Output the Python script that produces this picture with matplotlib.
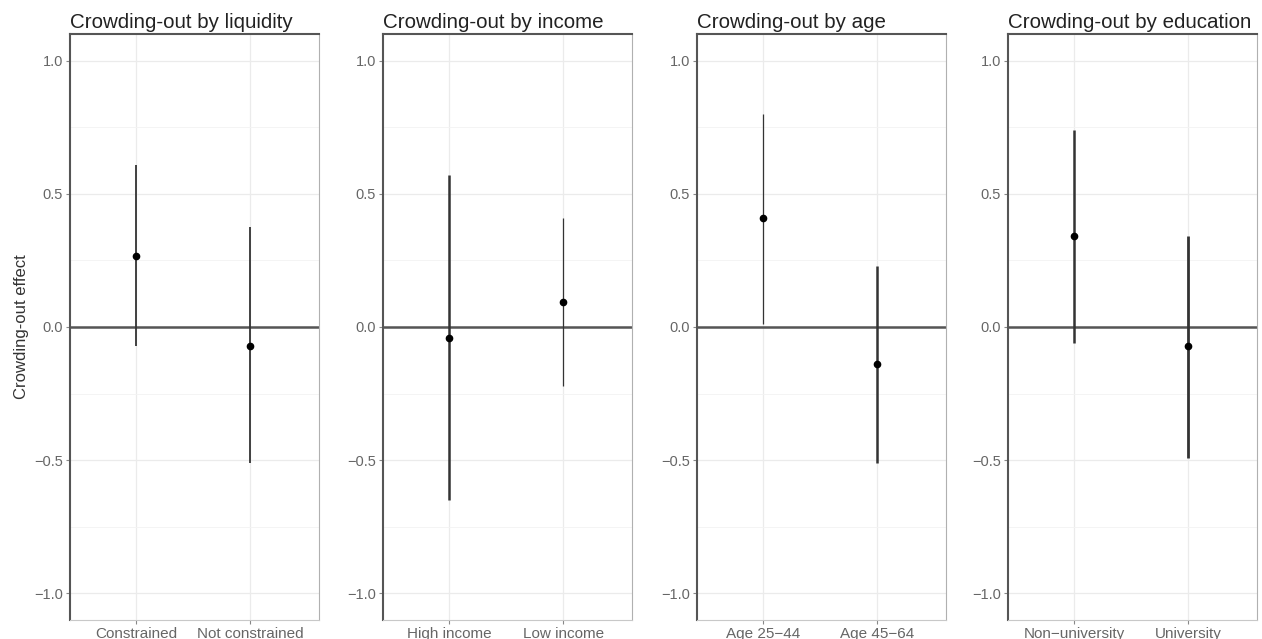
import numpy as np
import matplotlib
matplotlib.use("Agg")
import matplotlib.pyplot as plt
from matplotlib.ticker import MultipleLocator

plt.rcParams['font.family'] = ['Liberation Sans', 'DejaVu Sans']

# data
titles = ["Crowding-out by liquidity", "Crowding-out by income",
          "Crowding-out by age", "Crowding-out by education"]
groups = [["Constrained", "Not constrained"],
          ["High income", "Low income"],
          ["Age 25\u221244", "Age 45\u221264"],
          ["Non\u2212university", "University"]]
estimates = [[0.265, -0.07], [-0.04, 0.095], [0.41, -0.14], [0.34, -0.07]]
ci_low = [[-0.07, -0.51], [-0.65, -0.22], [0.01, -0.51], [-0.06, -0.49]]
ci_high = [[0.61, 0.375], [0.57, 0.41], [0.80, 0.23], [0.74, 0.34]]
line_w = [[1.3, 1.3], [1.8, 0.9], [0.9, 1.8], [1.8, 2.0]]

W, H = 1262, 639
fig = plt.figure(figsize=(W / 100, H / 100), dpi=100)
lefts = [70, 383, 697, 1008]
aw = 249
top, bottom = 34, 620

for i in range(4):
    ax = fig.add_axes([lefts[i] / W, 1 - bottom / H, aw / W, (bottom - top) / H])
    x = np.arange(len(groups[i]))
    ax.set_xlim(-0.58, 1.6)
    ax.set_ylim(-1.1, 1.1)
    ax.yaxis.set_major_locator(MultipleLocator(0.5))
    ax.yaxis.set_minor_locator(MultipleLocator(0.25))
    ax.grid(which='major', color='#ebebeb', lw=0.9)
    ax.grid(which='minor', axis='y', color='#f3f3f3', lw=0.6)
    ax.set_axisbelow(True)
    ax.axhline(0, color='#555555', lw=1.8, zorder=2)
    for j in range(len(x)):
        ax.vlines(x[j], ci_low[i][j], ci_high[i][j], color='#333333',
                  lw=line_w[i][j], zorder=3)
    ax.plot(x, estimates[i], 'o', color='black', ms=4.5, zorder=4)
    ax.set_xticks(x)
    ax.set_xticklabels(groups[i])
    ax.set_yticks([-1.0, -0.5, 0.0, 0.5, 1.0])
    ax.set_yticklabels(["\u22121.0", "\u22120.5", "0.0", "0.5", "1.0"])
    ax.tick_params(axis='both', which='major', length=3, width=0.8,
                   color='#888888', labelcolor='#666666', labelsize=10.5, pad=2)
    ax.tick_params(axis='x', labelsize=11)
    ax.tick_params(axis='y', which='minor', length=0)
    ax.spines['left'].set_color('#555555')
    ax.spines['left'].set_linewidth(1.5)
    ax.spines['top'].set_color('#555555')
    ax.spines['top'].set_linewidth(1.5)
    ax.spines['right'].set_color('#b0b0b0')
    ax.spines['bottom'].set_color('#c8c8c8')
    ax.set_title(titles[i], loc='left', fontsize=14.8, color='#222222', pad=4)
    if i == 0:
        ax.set_ylabel("Crowding-out effect", fontsize=12, color='#333333')

fig.savefig("out.png", dpi=100, facecolor='white')
